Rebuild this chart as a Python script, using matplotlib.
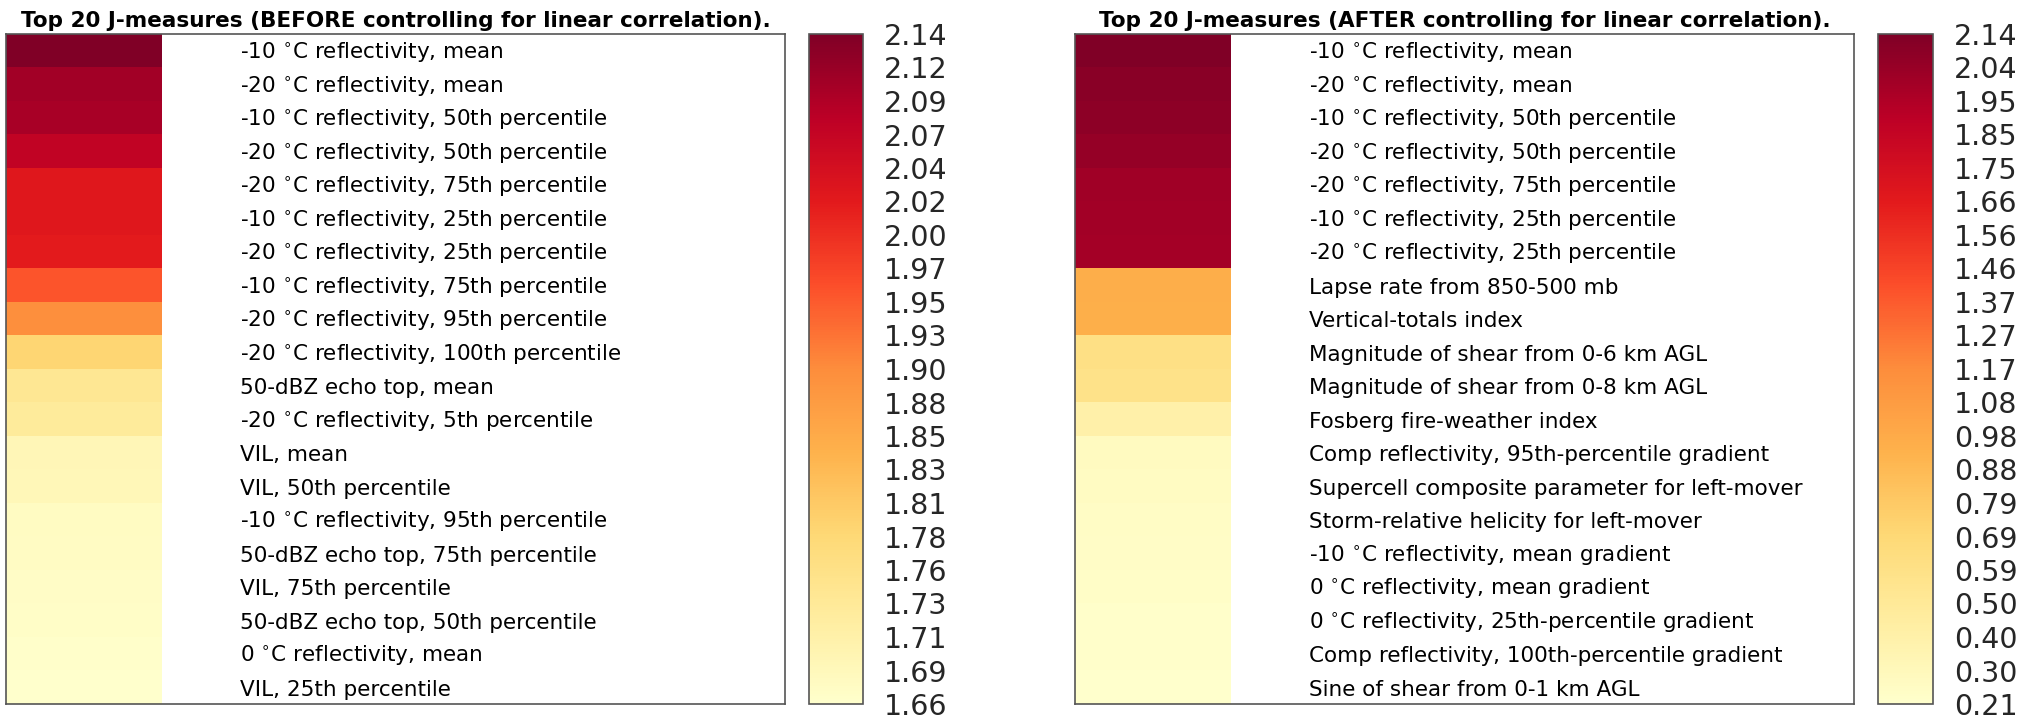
import numpy as np
import matplotlib
matplotlib.use('Agg')
import matplotlib.pyplot as plt

# predictor names, ranked by J-measure
names_before = [
    r'-10 $^{\circ}$C reflectivity, mean',
    r'-20 $^{\circ}$C reflectivity, mean',
    r'-10 $^{\circ}$C reflectivity, 50th percentile',
    r'-20 $^{\circ}$C reflectivity, 50th percentile',
    r'-20 $^{\circ}$C reflectivity, 75th percentile',
    r'-10 $^{\circ}$C reflectivity, 25th percentile',
    r'-20 $^{\circ}$C reflectivity, 25th percentile',
    r'-10 $^{\circ}$C reflectivity, 75th percentile',
    r'-20 $^{\circ}$C reflectivity, 95th percentile',
    r'-20 $^{\circ}$C reflectivity, 100th percentile',
    '50-dBZ echo top, mean',
    r'-20 $^{\circ}$C reflectivity, 5th percentile',
    'VIL, mean',
    'VIL, 50th percentile',
    r'-10 $^{\circ}$C reflectivity, 95th percentile',
    '50-dBZ echo top, 75th percentile',
    'VIL, 75th percentile',
    '50-dBZ echo top, 50th percentile',
    r'0 $^{\circ}$C reflectivity, mean',
    'VIL, 25th percentile',
]
j_before = [2.139, 2.105, 2.099, 2.072, 2.025, 2.024, 2.020, 1.954, 1.897, 1.787,
            1.740, 1.730, 1.692, 1.690, 1.678, 1.675, 1.672, 1.670, 1.667, 1.6636]

names_after = [
    r'-10 $^{\circ}$C reflectivity, mean',
    r'-20 $^{\circ}$C reflectivity, mean',
    r'-10 $^{\circ}$C reflectivity, 50th percentile',
    r'-20 $^{\circ}$C reflectivity, 50th percentile',
    r'-20 $^{\circ}$C reflectivity, 75th percentile',
    r'-10 $^{\circ}$C reflectivity, 25th percentile',
    r'-20 $^{\circ}$C reflectivity, 25th percentile',
    'Lapse rate from 850-500 mb',
    'Vertical-totals index',
    'Magnitude of shear from 0-6 km AGL',
    'Magnitude of shear from 0-8 km AGL',
    'Fosberg fire-weather index',
    'Comp reflectivity, 95th-percentile gradient',
    'Supercell composite parameter for left-mover',
    'Storm-relative helicity for left-mover',
    r'-10 $^{\circ}$C reflectivity, mean gradient',
    r'0 $^{\circ}$C reflectivity, mean gradient',
    r'0 $^{\circ}$C reflectivity, 25th-percentile gradient',
    'Comp reflectivity, 100th-percentile gradient',
    'Sine of shear from 0-1 km AGL',
]
j_after = [2.139, 2.095, 2.085, 2.055, 2.010, 2.000, 1.990, 0.960, 0.950, 0.600,
           0.580, 0.400, 0.270, 0.260, 0.250, 0.240, 0.230, 0.220, 0.215, 0.207]

titles = ['Top 20 J-measures (BEFORE controlling for linear correlation).',
          'Top 20 J-measures (AFTER controlling for linear correlation).']

W, H = 2029, 715
fig = plt.figure(figsize=(W / 100, H / 100), dpi=100)

def px(x0, y0, x1, y1):
    # pixel box -> figure fraction rect
    return [x0 / W, 1 - y1 / H, (x1 - x0) / W, (y1 - y0) / H]

panels = [
    (names_before, j_before, titles[0], px(6, 34, 785, 704), px(809, 34, 863, 704)),
    (names_after, j_after, titles[1], px(1075, 34, 1854, 704), px(1878, 34, 1933, 704)),
]

for names, vals, title, rect, crect in panels:
    vals = np.array(vals)
    n = len(vals)
    ax = fig.add_axes(rect)
    im = ax.imshow(vals[:, None], cmap='YlOrRd', aspect='auto',
                   extent=[0, 1, n, 0], vmin=vals.min(), vmax=vals.max(),
                   interpolation='nearest')
    ax.set_xlim(0, 5)
    ax.set_ylim(n, 0)
    ax.set_xticks([])
    ax.set_yticks([])
    for s in ax.spines.values():
        s.set_color('#555555')
        s.set_linewidth(1.2)
    for i, name in enumerate(names):
        ax.text(1.5, i + 0.58, name, va='center', ha='left', fontsize=15.5,
                color='black')
    ax.set_title(title, fontsize=15.5, fontweight='bold', pad=5)

    cax = fig.add_axes(crect)
    cb = fig.colorbar(im, cax=cax, ticks=np.linspace(vals.min(), vals.max(), 21),
                      format='%.2f')
    cb.outline.set_edgecolor('#555555')
    cb.outline.set_linewidth(1.2)
    cax.tick_params(length=0, labelsize=20.5, labelcolor='#262626', pad=15)

fig.savefig('out.png', dpi=100)
